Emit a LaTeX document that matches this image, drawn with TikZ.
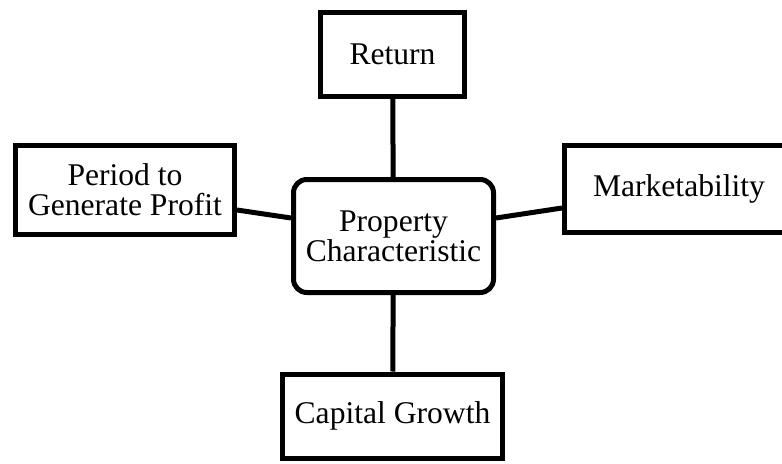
\documentclass[tikz,border=0pt]{standalone}
\usepackage{fontspec}
\setmainfont{Liberation Serif}

\begin{document}
\begin{tikzpicture}[x=0.75pt,y=-0.75pt,line width=3.75pt]
    \tikzstyle{factor}=[draw, rectangle, align=center, text=black, font=\fontsize{23.7}{22.5}\selectfont]
    \tikzstyle{core}=[style=factor, rounded corners=10pt]
    \useasboundingbox (0,0) rectangle (782,464);

    \node[factor,minimum width=108pt,minimum height=63pt]     (ret)    at (392.5,54.5) {Return};
    \node[factor,minimum width=164.25pt,minimum height=66.75pt] (period) at (125,190)    {Period to\\Generate Profit};
    \node[core,minimum width=150pt,minimum height=84.75pt]    (prop)   at (393.5,236)  {Property\\Characteristic};
    \node[factor,minimum width=171.75pt,minimum height=65.25pt] (market) at (679,189)    {Marketability};
    \node[factor,minimum width=165pt,minimum height=63pt]     (growth) at (392.5,416) {Capital Growth};

    \path[draw]
     (ret) edge (prop)
     (prop) edge (growth)
     ([yshift=-15pt]period.east) edge ([yshift=13.5pt]prop.west)
     ([yshift=13.5pt]prop.east) edge ([yshift=-14.25pt]market.west);
\end{tikzpicture}
\end{document}
